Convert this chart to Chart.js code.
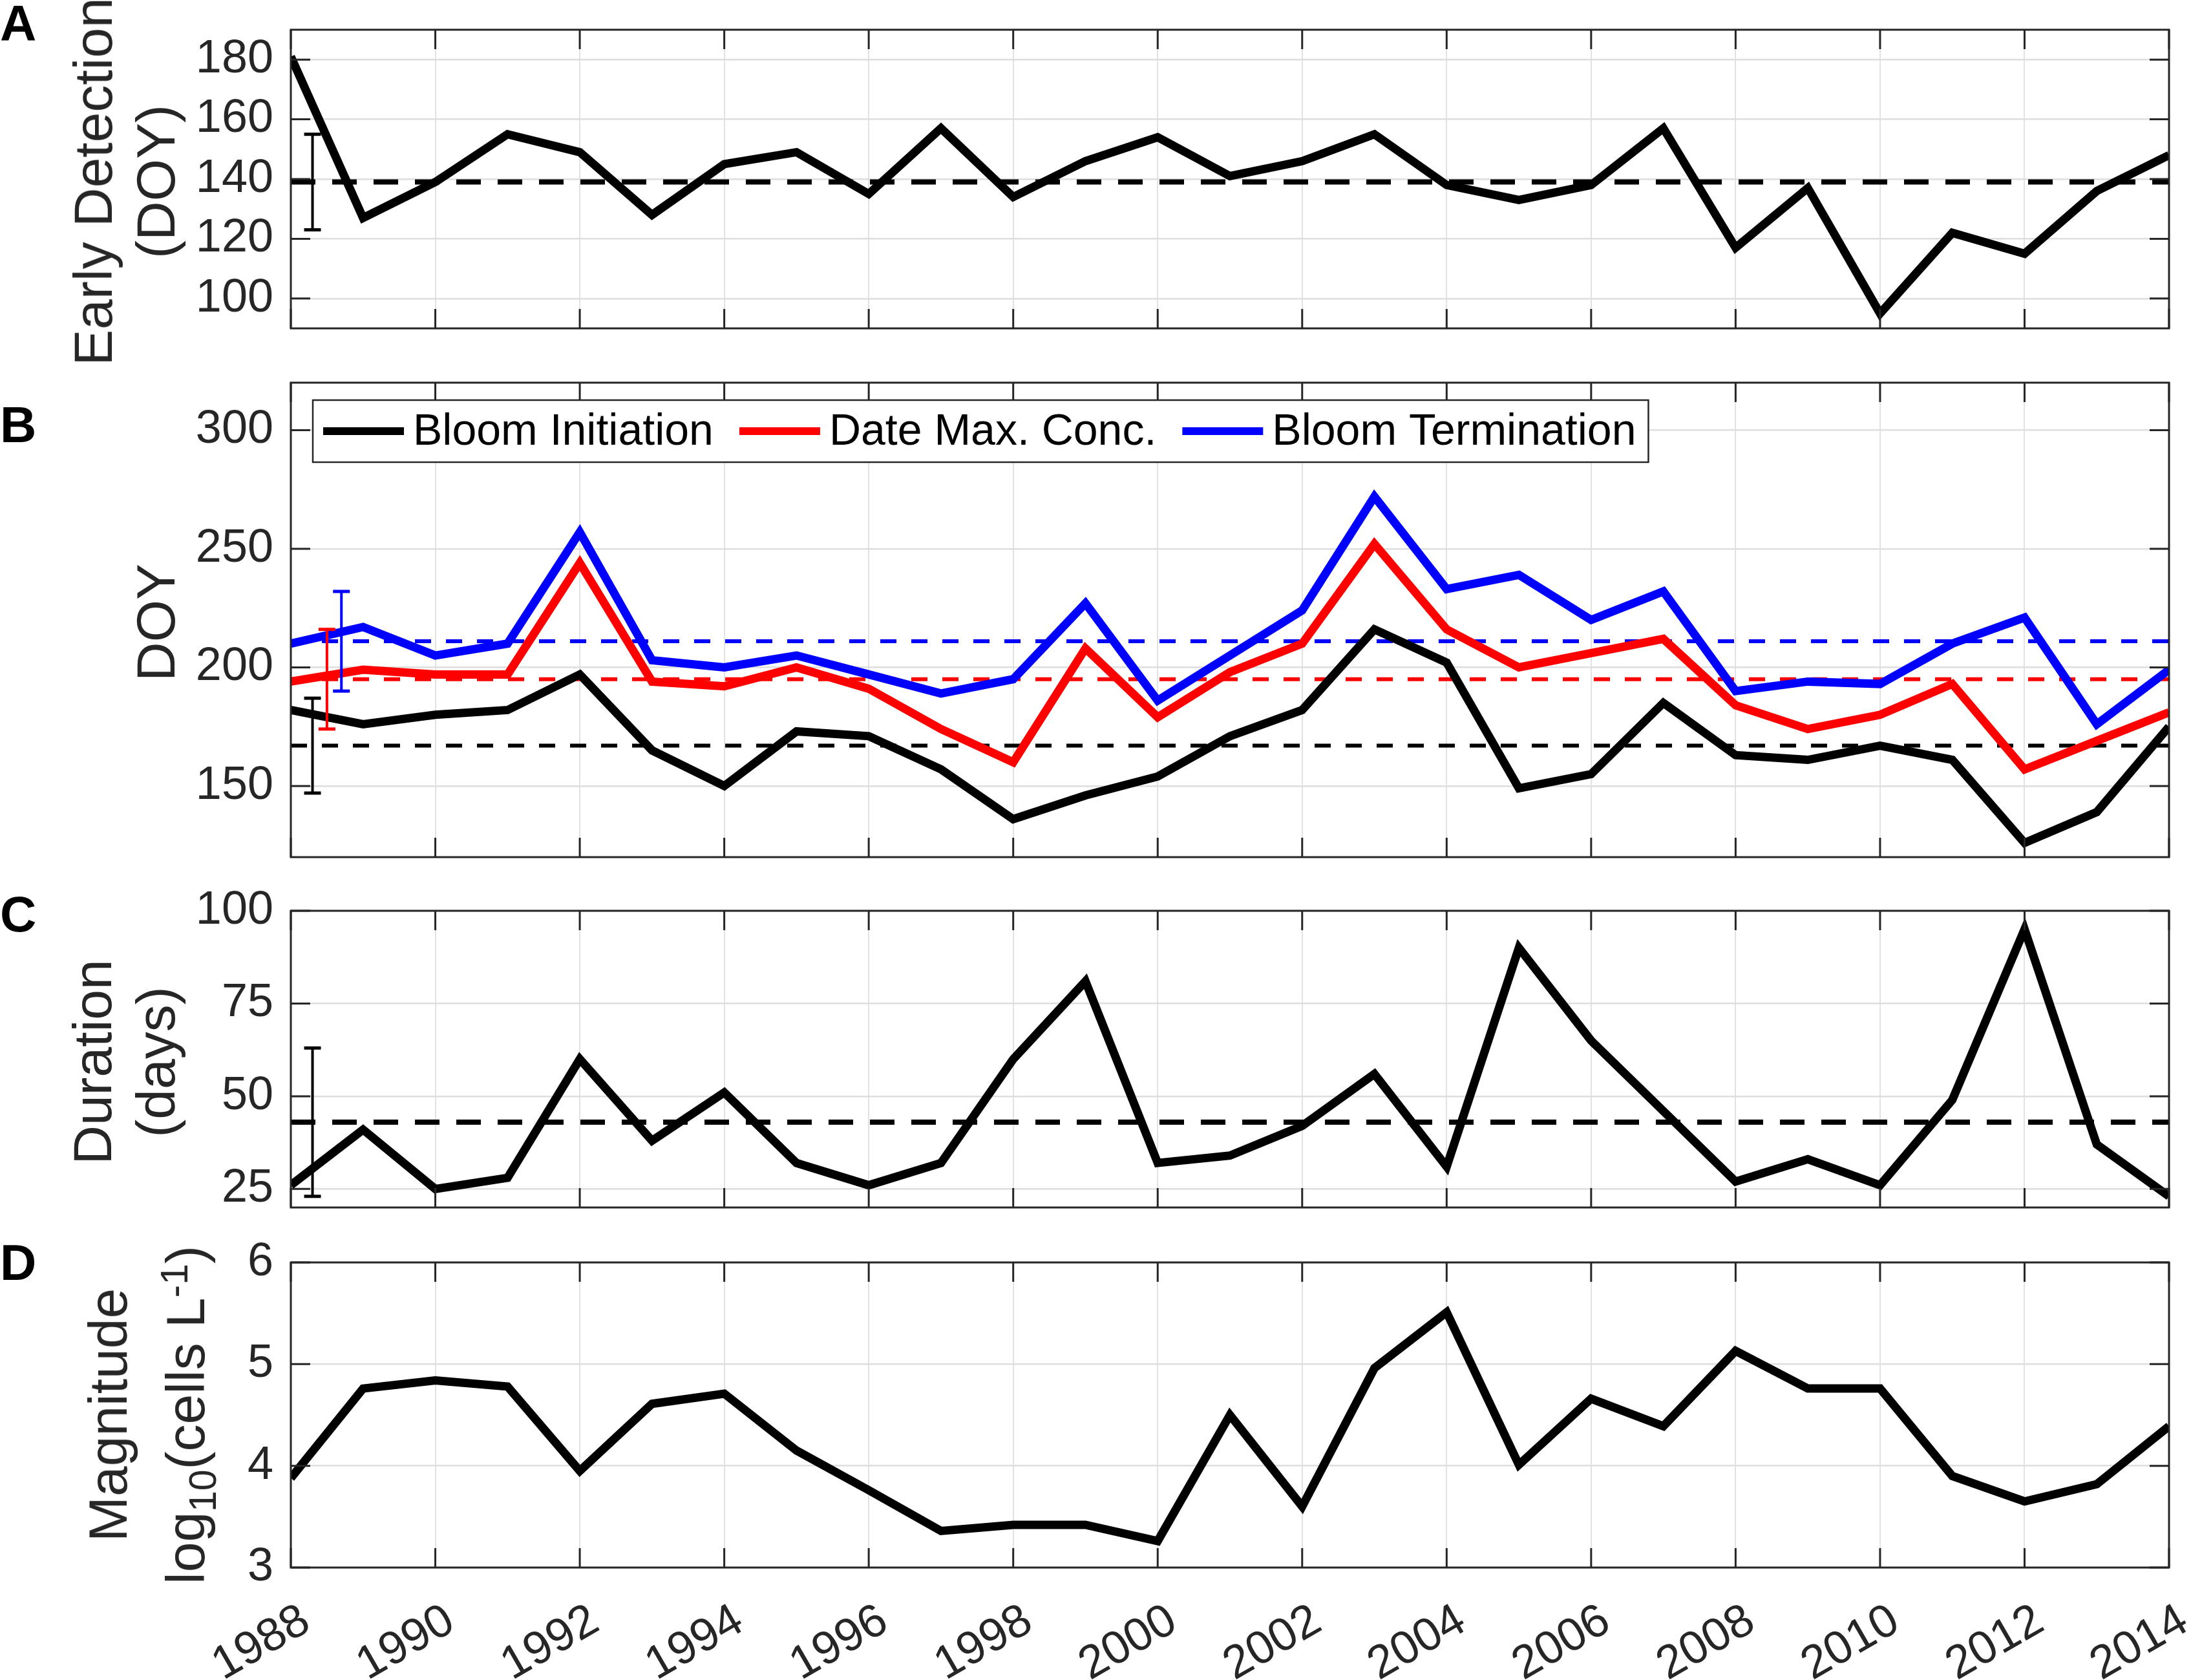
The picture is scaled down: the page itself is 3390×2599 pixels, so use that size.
<!DOCTYPE html>
<html lang="en">
<head>
  <meta charset="UTF-8">
  <title>Bloom timing, duration and magnitude 1988–2014</title>
  <script src="https://cdn.jsdelivr.net/npm/chart.js@4"></script>
  <style>
    html, body { margin: 0; padding: 0; background: #fff; }
    .page { position: relative; width: 3390px; height: 2599px; overflow: hidden;
            font-family: "Liberation Sans", Arial, sans-serif; }
    canvas { position: absolute; left: 0; }
    .ylab { position: absolute; transform: translate(-50%, -50%) rotate(-90deg);
            font-size: 84px; line-height: 1; color: #262626; white-space: nowrap; }
    .letter { position: absolute; left: 0; font-size: 78px; font-weight: bold; line-height: 1; color: #000; }
    .sub { font-size: 0.7em; position: relative; top: 0.3em; }
    .sup { font-size: 0.7em; position: relative; top: -0.45em; }
  </style>
</head>
<body>
  <div class="page">
    <canvas id="chartA"></canvas>
    <canvas id="chartB"></canvas>
    <canvas id="chartC"></canvas>
    <canvas id="chartD"></canvas>

    <div class="letter" style="top:-3px">A</div>
    <div class="letter" style="top:618px">B</div>
    <div class="letter" style="top:1375px">C</div>
    <div class="letter" style="top:1914px">D</div>

    <div class="ylab" style="left:144px; top:281px">Early Detection</div>
    <div class="ylab" style="left:241px; top:281px">(DOY)</div>
    <div class="ylab" style="left:241px; top:963px">DOY</div>
    <div class="ylab" style="left:143px; top:1643px">Duration</div>
    <div class="ylab" style="left:241px; top:1643px">(days)</div>
    <div class="ylab" style="left:167px; top:2189px">Magnitude</div>
    <div class="ylab" style="left:287px; top:2189px">log<span class="sub">10</span>(cells L<span class="sup">-1</span>)</div>
  </div>

  <script>
    // ---- data ----
    const years = [1988, 1989, 1990, 1991, 1992, 1993, 1994, 1995, 1996, 1997, 1998, 1999, 2000,
                   2001, 2002, 2003, 2004, 2005, 2006, 2007, 2008, 2009, 2010, 2011, 2012, 2013, 2014];
    const yearTicks = [1988, 1990, 1992, 1994, 1996, 1998, 2000, 2002, 2004, 2006, 2008, 2010, 2012, 2014];

    // A: early detection (DOY)
    const earlyDetection = [181, 127, 139, 155, 149, 128, 145, 149, 135, 157, 134, 146, 154,
                            141, 146, 155, 138, 133, 138, 157, 117, 137, 95, 122, 115, 136, 148];
    const earlyMean = 139;
    const earlyErr = [123, 155];
    const earlyTicks = [100, 120, 140, 160, 180];

    // B: bloom initiation / date of max concentration / termination (DOY)
    const bloomInitiation = [182, 176, 180, 182, 197, 165, 150, 173, 171, 157, 136, 146, 154,
                             171, 182, 216, 202, 149, 155, 185, 163, 161, 167, 161, 126, 139, 175];
    const dateMaxConc = [194, 199, 197, 197, 244, 194, 192, 200, 191, 174, 160, 208, 179,
                         198, 210, 252, 216, 200, 206, 212, 184, 174, 180, 193, 157, 169, 181];
    const bloomTermination = [210, 217, 205, 210, 257, 203, 200, 205, 197, 189, 195, 227, 186,
                              205, 224, 272, 233, 239, 220, 232, 190, 194, 193, 210, 221, 176, 199];
    const initMean = 167, maxMean = 195, termMean = 211;
    const initErr = [147, 187], maxErr = [174, 216], termErr = [190, 232];
    const doyTicks = [150, 200, 250, 300];

    // C: duration (days)
    const duration = [26, 41, 25, 28, 60, 38, 51, 32, 26, 32, 60, 81, 32,
                      34, 42, 56, 31, 90, 65, 46, 27, 33, 26, 49, 95, 37, 23];
    const durationMean = 43;
    const durationErr = [23, 63];
    const durationTicks = [25, 50, 75, 100];

    // D: magnitude, log10(cells L-1)
    const magnitude = [3.88, 4.76, 4.84, 4.78, 3.95, 4.61, 4.71, 4.15, 3.76, 3.36, 3.42, 3.42, 3.26,
                       4.50, 3.60, 4.96, 5.51, 4.01, 4.66, 4.39, 5.13, 4.76, 4.76, 3.90, 3.65, 3.82, 4.39];
    const magTicks = [3, 4, 5, 6];

    const errX = [1988.3, 1988.5, 1988.7];

    // ---- helpers ----
    const FONT = "Liberation Sans";
    const AXIS = "#262626";
    const pts = vals => vals.map((v, i) => ({ x: years[i], y: v }));
    const meanPts = m => [{ x: years[0], y: m }, { x: years[years.length - 1], y: m }];
    const errPts = (x, r) => [{ x: x, y: r[0] }, { x: x, y: r[1] }];

    function series(label, vals, color, order) {
      return { label, data: pts(vals), borderColor: color, backgroundColor: color,
               borderWidth: 13, pointRadius: 0, tension: 0, order };
    }
    function mean(m, color, width, dash) {
      return { label: "mean", data: meanPts(m), borderColor: color, borderWidth: width,
               borderDash: dash, pointRadius: 0, order: 10 };
    }
    function errBar(x, r, color) {
      return { label: "sd", data: errPts(x, r), borderColor: color, borderWidth: 4,
               pointStyle: "line", pointRadius: 13, pointBorderWidth: 5,
               pointBorderColor: color, order: 0 };
    }

    // box round the plot, inward ticks on all four sides, and a framed one-row legend
    const framePlugin = {
      id: "frame",
      afterDatasetsDraw(chart, args, opts) {
        const { ctx, chartArea: a, scales: { x, y } } = chart;
        ctx.save();
        ctx.strokeStyle = AXIS;
        ctx.lineWidth = 3;
        ctx.beginPath();
        x.ticks.forEach(t => {
          const px = x.getPixelForValue(t.value);
          ctx.moveTo(px, a.top); ctx.lineTo(px, a.top + 30);
          ctx.moveTo(px, a.bottom); ctx.lineTo(px, a.bottom - 30);
        });
        y.ticks.forEach(t => {
          const py = y.getPixelForValue(t.value);
          ctx.moveTo(a.left, py); ctx.lineTo(a.left + 30, py);
          ctx.moveTo(a.right, py); ctx.lineTo(a.right - 30, py);
        });
        ctx.stroke();
        ctx.strokeRect(a.left, a.top, a.right - a.left, a.bottom - a.top);

        if (opts.legend) {
          const items = chart.data.datasets.slice(0, 3);
          ctx.font = "68px " + FONT;
          ctx.textBaseline = "middle";
          const sample = 125, gapText = 14, gapItem = 40;
          const cy = a.top + 75;
          const x0 = a.left + 50;
          let total = 0;
          items.forEach((ds, i) => {
            total += sample + gapText + ctx.measureText(ds.label).width + (i < items.length - 1 ? gapItem : 0);
          });
          const l = x0 - 16, r = x0 + total + 19;
          ctx.fillStyle = "#fff";
          ctx.fillRect(l, cy - 48, r - l, 96);
          ctx.lineWidth = 2.5;
          ctx.strokeRect(l, cy - 48, r - l, 96);
          let cx = x0;
          items.forEach(ds => {
            ctx.beginPath();
            ctx.lineWidth = 12;
            ctx.lineCap = "butt";
            ctx.strokeStyle = ds.borderColor;
            ctx.moveTo(cx, cy); ctx.lineTo(cx + sample, cy);
            ctx.stroke();
            cx += sample + gapText;
            ctx.fillStyle = "#000";
            ctx.fillText(ds.label, cx, cy + 2);
            cx += ctx.measureText(ds.label).width + gapItem;
          });
        }
        ctx.restore();
      }
    };

    const PAD_TOP = 40, PAD_BOTTOM = 10, LEFT = 450, RIGHT = 3356, PAGE_W = 3390;

    function makePanel(id, p) {
      const canvas = document.getElementById(id);
      const xH = p.showX ? 2599 - p.bottom : 0;
      const h = p.bottom - p.top + PAD_TOP + (p.showX ? xH : PAD_BOTTOM);
      canvas.width = PAGE_W;
      canvas.height = h;
      canvas.style.top = (p.top - PAD_TOP) + "px";

      return new Chart(canvas.getContext("2d"), {
        type: "line",
        data: { datasets: p.datasets },
        options: {
          responsive: false,
          animation: false,
          devicePixelRatio: 1,
          events: [],
          layout: { padding: { top: PAD_TOP, bottom: p.showX ? 0 : PAD_BOTTOM, left: 0, right: PAGE_W - RIGHT } },
          scales: {
            x: {
              type: "linear", min: 1988, max: 2014,
              afterBuildTicks: s => { s.ticks = yearTicks.map(v => ({ value: v })); },
              afterFit: s => { s.height = xH; s.paddingLeft = 0; s.paddingRight = 0; },
              ticks: {
                display: !!p.showX, autoSkip: false, minRotation: 30, maxRotation: 30,
                padding: 40, labelOffset: 24, color: AXIS,
                font: { family: FONT, size: 72 },
                callback: v => String(v)
              },
              grid: { color: "#e2e2e2", lineWidth: 2, drawTicks: false },
              border: { display: false }
            },
            y: {
              min: p.yMin, max: p.yMax,
              afterBuildTicks: s => { s.ticks = p.yTicks.map(v => ({ value: v })); },
              afterFit: s => { s.width = LEFT; s.paddingTop = 0; s.paddingBottom = 0; },
              ticks: { padding: 27, color: AXIS, font: { family: FONT, size: 72 } },
              grid: { color: "#dedede", lineWidth: 2.5, drawTicks: false },
              border: { display: false }
            }
          },
          plugins: {
            tooltip: { enabled: false },
            legend: { display: false },
            frame: { legend: !!p.legend }
          }
        },
        plugins: [framePlugin]
      });
    }

    makePanel("chartA", {
      top: 46, bottom: 516, yMin: 90, yMax: 190, yTicks: earlyTicks,
      datasets: [
        series("Early Detection", earlyDetection, "#000000", 3),
        mean(earlyMean, "#000000", 8, [38, 26]),
        errBar(errX[0], earlyErr, "#000000")
      ]
    });

    makePanel("chartB", {
      top: 592, bottom: 1334, yMin: 120, yMax: 320, yTicks: doyTicks, legend: true,
      datasets: [
        series("Bloom Initiation", bloomInitiation, "#000000", 3),
        series("Date Max. Conc.", dateMaxConc, "#ff0000", 2),
        series("Bloom Termination", bloomTermination, "#0000ff", 1),
        mean(initMean, "#000000", 6, [25, 23]),
        mean(maxMean, "#ff0000", 6, [25, 23]),
        mean(termMean, "#0000ff", 6, [25, 23]),
        errBar(errX[0], initErr, "#000000"),
        errBar(errX[1], maxErr, "#ff0000"),
        errBar(errX[2], termErr, "#0000ff")
      ]
    });

    makePanel("chartC", {
      top: 1409, bottom: 1876, yMin: 20, yMax: 100, yTicks: durationTicks,
      datasets: [
        series("Duration", duration, "#000000", 3),
        mean(durationMean, "#000000", 8, [38, 26]),
        errBar(errX[0], durationErr, "#000000")
      ]
    });

    makePanel("chartD", {
      top: 1953, bottom: 2425, yMin: 3, yMax: 6, yTicks: magTicks, showX: true,
      datasets: [
        series("Magnitude", magnitude, "#000000", 3)
      ]
    });
  </script>
</body>
</html>
